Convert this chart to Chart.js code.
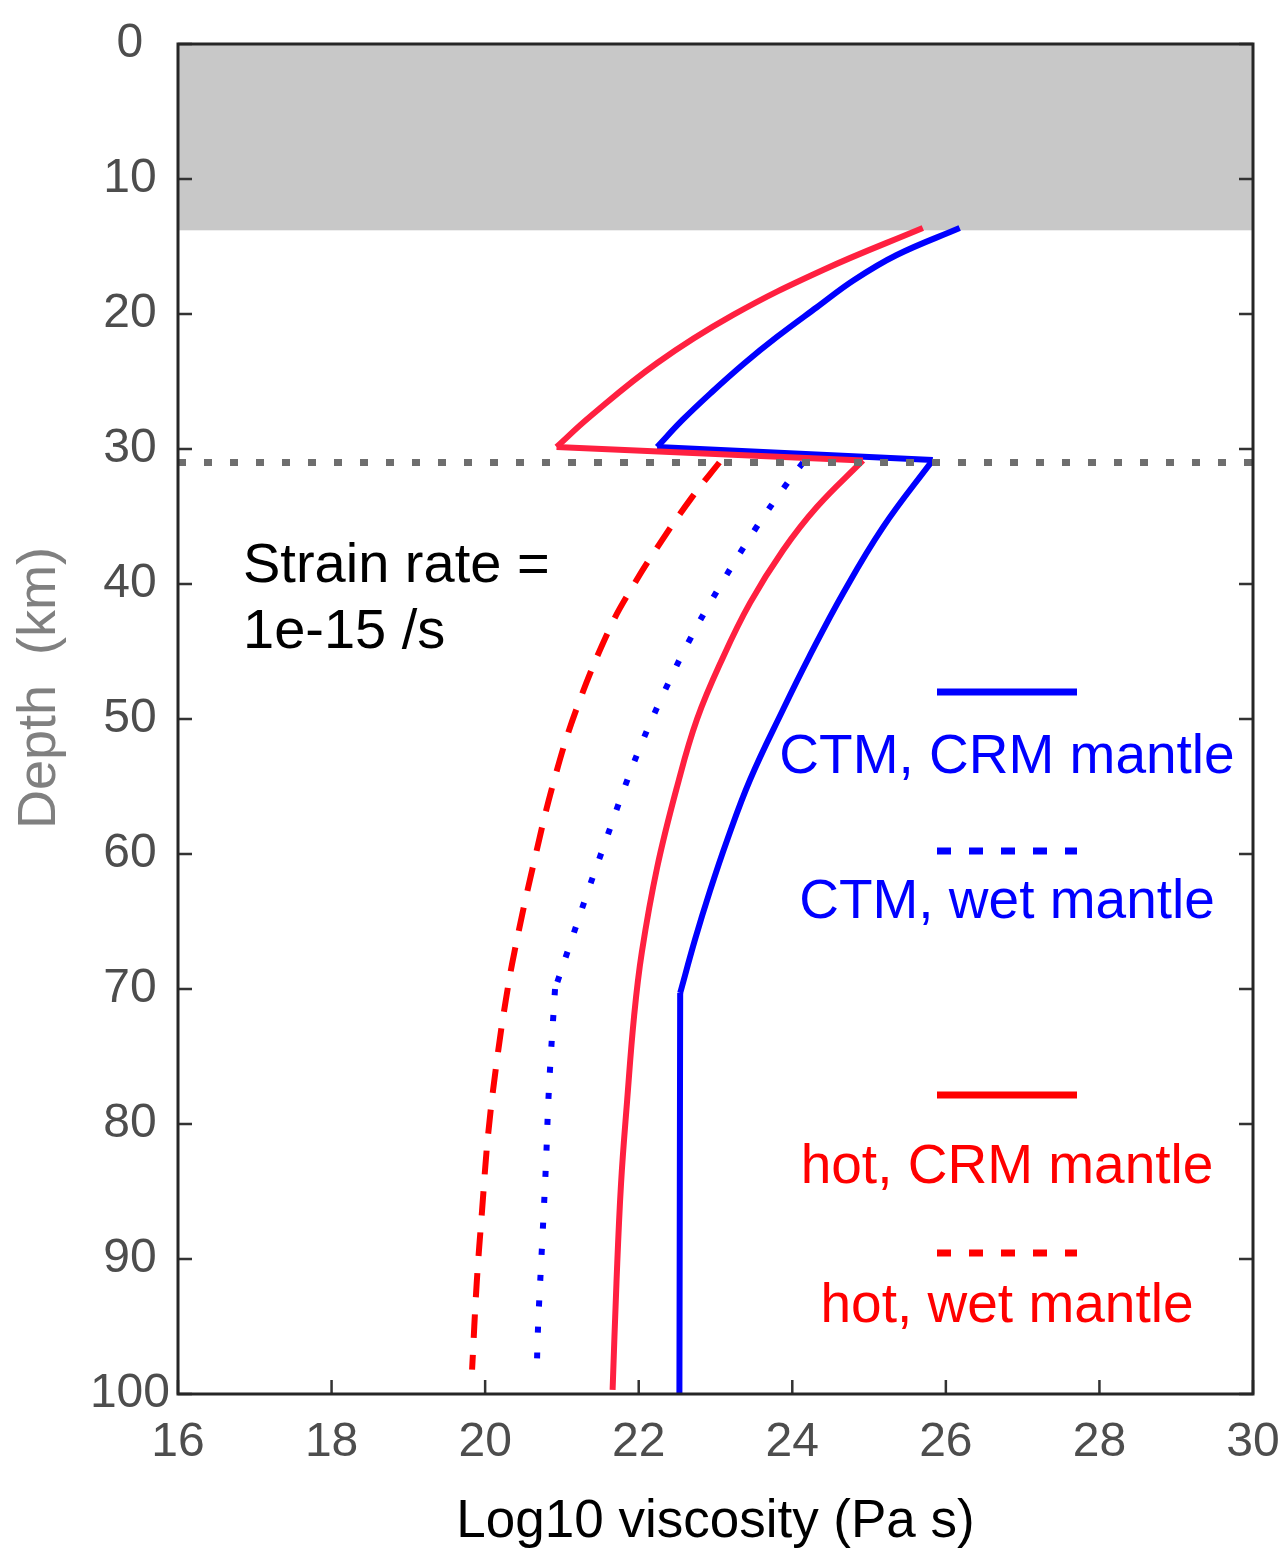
<!DOCTYPE html>
<html lang="en">
  <head>
    <meta charset="UTF-8" />
    <title>Viscosity profiles</title>
    <script src="https://cdn.jsdelivr.net/npm/chart.js"></script>
    <style>
      body {
        margin: 0;
        background: #ffffff;
      }
    </style>
  </head>
  <body>
    <canvas id="viscChart" width="1285" height="1549"></canvas>

    <script>
      // axis ticks
      const xTicks = [16, 18, 20, 22, 24, 26, 28, 30];
      const yTicks = [0, 10, 20, 30, 40, 50, 60, 70, 80, 90, 100];

      // brittle upper crust (grey band) and Moho, km
      const crustBase = 13.8;
      const mohoDepth = 31;
      const mohoX = [16, 30];

      // CTM geotherm, CRM mantle (blue solid): lower crust, mantle, deep mantle
      const ctmCrmCrustDepth = [13.63, 15.63, 17.5, 19.5, 21.7, 23.63, 25.85, 27.85, 29.85];
      const ctmCrmCrustVisc = [26.18, 25.36, 24.80, 24.32, 23.80, 23.38, 22.94, 22.57, 22.24];
      const ctmCrmMantleDepth = [30.81, 35.8, 40.7, 45.4, 49.3, 54.5, 59.0, 62.7, 66.4, 70.3];
      const ctmCrmMantleVisc = [25.83, 25.18, 24.66, 24.22, 23.88, 23.45, 23.15, 22.93, 22.73, 22.54];
      const ctmCrmDeepDepth = [70.3, 100];
      const ctmCrmDeepVisc = [22.54, 22.53];

      // CTM geotherm, wet mantle (blue dotted)
      const ctmWetDepth = [31.0, 32.8, 36.0, 41.0, 44.4, 47.9, 51.5, 55.0, 58.7, 62.4, 66.1, 70.0];
      const ctmWetVisc = [24.14, 23.90, 23.51, 22.97, 22.64, 22.34, 22.06, 21.82, 21.59, 21.36, 21.14, 20.91];
      const ctmWetDeepDepth = [70.0, 77.5, 83.2, 89.1, 94.9, 98.7];
      const ctmWetDeepVisc = [20.91, 20.83, 20.79, 20.74, 20.69, 20.67];

      // hot geotherm, CRM mantle (red solid): lower crust, mantle
      const hotCrmCrustDepth = [13.63, 16.74, 20.07, 23.63, 27.63, 29.85];
      const hotCrmCrustVisc = [25.70, 24.40, 23.23, 22.24, 21.36, 20.93];
      const hotCrmMantleDepth = [30.85, 34.3, 37.5, 41.4, 45.4, 50.0, 55.0, 61.0, 67.3, 72.0, 78.2, 84.4, 91.8, 99.7];
      const hotCrmMantleVisc = [24.92, 24.32, 23.88, 23.45, 23.10, 22.76, 22.50, 22.24, 22.04, 21.94, 21.85, 21.77, 21.71, 21.66];

      // hot geotherm, wet mantle (red dashed)
      const hotWetDepth = [31.0, 33.6, 37.3, 40.2, 43.2, 49.1, 54.5, 61.0, 67.3, 70.8, 75.0, 80.7, 86.4, 91.8, 98.2];
      const hotWetVisc = [23.05, 22.69, 22.24, 21.92, 21.63, 21.20, 20.90, 20.62, 20.38, 20.27, 20.16, 20.04, 19.96, 19.89, 19.83];

      const legendLabels = ["CTM, CRM mantle", "CTM, wet mantle", "hot, CRM mantle", "hot, wet mantle"];
      const noteLines = ["Strain rate =", "1e-15 /s"];
      const yTitle = "Depth  (km)";

      const toPoints = (depths, viscs) => depths.map((d, i) => ({ x: viscs[i], y: d }));
      const lastPt = (depths, viscs) => ({ x: viscs[viscs.length - 1], y: depths[depths.length - 1] });
      const firstPt = (depths, viscs) => ({ x: viscs[0], y: depths[0] });

      const FONT = "'Liberation Sans', Arial, sans-serif";

      // grey crust band, under the curves
      const crustBand = {
        id: "crustBand",
        beforeDatasetsDraw(chart) {
          const { ctx, chartArea, scales } = chart;
          const y0 = scales.y.getPixelForValue(0);
          const y1 = scales.y.getPixelForValue(crustBase);
          ctx.save();
          ctx.fillStyle = "#c8c8c8";
          ctx.fillRect(chartArea.left, y0, chartArea.right - chartArea.left, y1 - y0);
          ctx.restore();
        },
      };

      // box, inward ticks, y title, legend and note
      const frameAndText = {
        id: "frameAndText",
        afterDraw(chart) {
          const { ctx, chartArea, scales } = chart;
          const { left, right, top, bottom } = chartArea;
          ctx.save();

          ctx.strokeStyle = "#333333";
          ctx.lineWidth = 2.5;
          ctx.beginPath();
          yTicks.forEach((t) => {
            const py = scales.y.getPixelForValue(t);
            ctx.moveTo(left, py);
            ctx.lineTo(left + 14, py);
            ctx.moveTo(right, py);
            ctx.lineTo(right - 14, py);
          });
          xTicks.forEach((t) => {
            const px = scales.x.getPixelForValue(t);
            ctx.moveTo(px, bottom);
            ctx.lineTo(px, bottom - 14);
          });
          ctx.stroke();

          ctx.strokeStyle = "#262626";
          ctx.lineWidth = 3;
          ctx.strokeRect(left, top, right - left, bottom - top);

          // y axis title (sits a bit above the axis middle)
          ctx.save();
          ctx.translate(40, 688);
          ctx.rotate(-Math.PI / 2);
          ctx.fillStyle = "#808080";
          ctx.font = "54px " + FONT;
          ctx.textAlign = "center";
          ctx.textBaseline = "middle";
          ctx.fillText(yTitle, 0, 0);
          ctx.restore();

          // legend
          const lx0 = left + 759;
          const lx1 = left + 899;
          const lcx = left + 829;
          const rows = [
            { line: top + 648, text: top + 729, color: "#0000ff", dash: [] },
            { line: top + 807, text: top + 874, color: "#0000ff", dash: [14, 18] },
            { line: top + 1051, text: top + 1139, color: "#ff0000", dash: [] },
            { line: top + 1209, text: top + 1278, color: "#ff0000", dash: [14, 18] },
          ];
          rows.forEach((r, i) => {
            ctx.strokeStyle = r.color;
            ctx.lineWidth = 7;
            ctx.setLineDash(r.dash);
            ctx.beginPath();
            ctx.moveTo(lx0, r.line);
            ctx.lineTo(lx1, r.line);
            ctx.stroke();
            ctx.setLineDash([]);
            ctx.fillStyle = r.color;
            ctx.font = "55px " + FONT;
            ctx.textAlign = "center";
            ctx.textBaseline = "alphabetic";
            ctx.fillText(legendLabels[i], lcx, r.text);
          });

          // strain rate note
          ctx.fillStyle = "#000000";
          ctx.font = "56px " + FONT;
          ctx.textAlign = "left";
          ctx.fillText(noteLines[0], left + 65, top + 538);
          ctx.fillText(noteLines[1], left + 65, top + 604);

          ctx.restore();
        },
      };

      const curve = (label, data, color, dash) => ({
        label,
        data,
        borderColor: color,
        borderDash: dash || [],
        borderWidth: 6,
        pointRadius: 0,
        fill: false,
        tension: 0.4,
      });

      const BLUE = "#0000ff";
      const RED = "#ff2040";
      const RED_DASH = "#ff0000";
      const DOTS = [6, 20];
      const DASHES = [24, 17];

      new Chart(document.getElementById("viscChart").getContext("2d"), {
        type: "line",
        data: {
          datasets: [
            {
              label: "Moho",
              data: mohoX.map((x) => ({ x, y: mohoDepth })),
              borderColor: "#6e6e6e",
              borderWidth: 7,
              borderDash: [8, 18],
              pointRadius: 0,
              fill: false,
            },
            curve(legendLabels[3], toPoints(hotWetDepth, hotWetVisc), RED_DASH, DASHES),
            curve(legendLabels[1], toPoints(ctmWetDepth, ctmWetVisc), BLUE, DOTS),
            curve(legendLabels[1], toPoints(ctmWetDeepDepth, ctmWetDeepVisc), BLUE, DOTS),
            curve(legendLabels[2], toPoints(hotCrmCrustDepth, hotCrmCrustVisc), RED),
            curve(legendLabels[2], [lastPt(hotCrmCrustDepth, hotCrmCrustVisc), firstPt(hotCrmMantleDepth, hotCrmMantleVisc)], RED),
            curve(legendLabels[2], toPoints(hotCrmMantleDepth, hotCrmMantleVisc), RED),
            curve(legendLabels[0], toPoints(ctmCrmCrustDepth, ctmCrmCrustVisc), BLUE),
            curve(legendLabels[0], [lastPt(ctmCrmCrustDepth, ctmCrmCrustVisc), firstPt(ctmCrmMantleDepth, ctmCrmMantleVisc)], BLUE),
            curve(legendLabels[0], toPoints(ctmCrmMantleDepth, ctmCrmMantleVisc), BLUE),
            curve(legendLabels[0], toPoints(ctmCrmDeepDepth, ctmCrmDeepVisc), BLUE),
          ],
        },
        options: {
          responsive: false,
          animation: false,
          layout: {
            padding: { top: 44, right: 32, left: 0, bottom: 0 },
          },
          plugins: {
            legend: { display: false },
            tooltip: { enabled: false },
          },
          scales: {
            x: {
              type: "linear",
              min: 16,
              max: 30,
              afterBuildTicks: (scale) => {
                scale.ticks = xTicks.map((v) => ({ value: v }));
              },
              afterFit: (scale) => {
                scale.height = 155;
                scale.paddingLeft = 0;
                scale.paddingRight = 0;
              },
              grid: { display: false },
              border: { display: false },
              ticks: {
                padding: 12,
                color: "#4d4d4d",
                font: { family: FONT, size: 48 },
              },
              title: {
                display: true,
                text: "Log10 viscosity (Pa s)",
                color: "#000000",
                font: { family: FONT, size: 53, lineHeight: 1.0 },
                padding: { top: 0, bottom: 0 },
              },
            },
            y: {
              type: "linear",
              reverse: true,
              min: 0,
              max: 100,
              afterBuildTicks: (scale) => {
                scale.ticks = yTicks.map((v) => ({ value: v }));
              },
              afterFit: (scale) => {
                scale.width = 178;
                scale.paddingTop = 0;
                scale.paddingBottom = 0;
              },
              grid: { display: false },
              border: { display: false },
              ticks: {
                padding: 0,
                crossAlign: "center",
                color: "#4d4d4d",
                font: { family: FONT, size: 48 },
              },
            },
          },
        },
        plugins: [crustBand, frameAndText],
      });
    </script>
  </body>
</html>
